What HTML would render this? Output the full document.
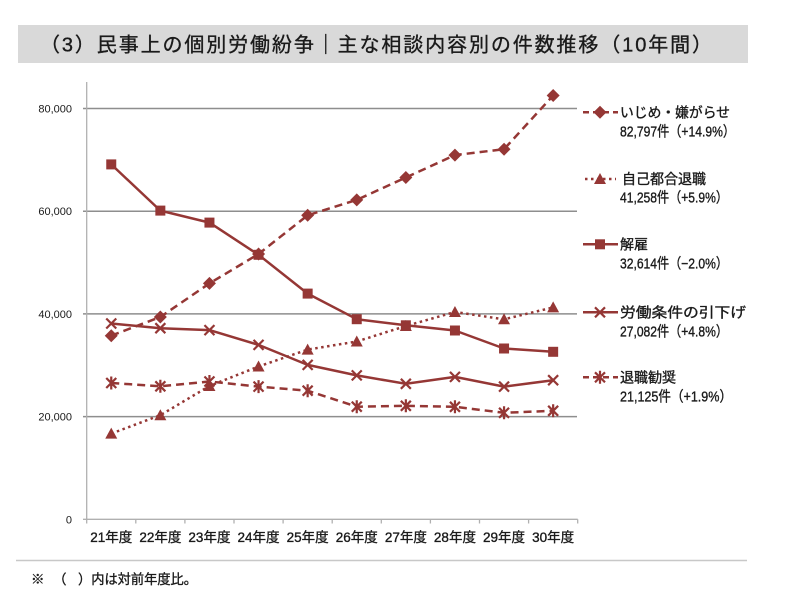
<!DOCTYPE html>
<html>
<head>
<meta charset="utf-8">
<style>
  html, body { margin:0; padding:0; background:#fff; }
  body { width:800px; height:607px; overflow:hidden; }
  svg { display:block; }
  text { font-family: "Liberation Sans", "Noto Sans CJK JP", sans-serif; fill:#1a1a1a; }
  .heavy { stroke:#1a1a1a; stroke-width:0.35px; }
</style>
</head>
<body>
<svg width="800" height="607" viewBox="0 0 800 607" xmlns="http://www.w3.org/2000/svg">
  <!-- Title bar -->
  <rect x="18" y="25" width="730" height="38" fill="#d9d9d9"/>
  <text class="heavy" x="40" y="51.5" font-size="20" textLength="672" lengthAdjust="spacing">（3）民事上の個別労働紛争｜主な相談内容別の件数推移（10年間）</text>

  <!-- Gridlines -->
  <g stroke="#8e8e8e" stroke-width="1.5">
    <line x1="83" y1="108.5" x2="577" y2="108.5"/>
    <line x1="83" y1="211.2" x2="577" y2="211.2"/>
    <line x1="83" y1="313.9" x2="577" y2="313.9"/>
    <line x1="83" y1="416.6" x2="577" y2="416.6"/>
  </g>
  <!-- Axes -->
  <g stroke="#b0b0b0" stroke-width="1.3">
    <line x1="86.7" y1="82" x2="86.7" y2="519.3"/>
    <line x1="83" y1="519.3" x2="577.7" y2="519.3"/>
    <line x1="86.7" y1="519.3" x2="86.7" y2="523.5"/>
    <line x1="135.8" y1="519.3" x2="135.8" y2="523.5"/>
    <line x1="184.9" y1="519.3" x2="184.9" y2="523.5"/>
    <line x1="234" y1="519.3" x2="234" y2="523.5"/>
    <line x1="283.1" y1="519.3" x2="283.1" y2="523.5"/>
    <line x1="332.2" y1="519.3" x2="332.2" y2="523.5"/>
    <line x1="381.3" y1="519.3" x2="381.3" y2="523.5"/>
    <line x1="430.4" y1="519.3" x2="430.4" y2="523.5"/>
    <line x1="479.5" y1="519.3" x2="479.5" y2="523.5"/>
    <line x1="528.6" y1="519.3" x2="528.6" y2="523.5"/>
    <line x1="577.7" y1="519.3" x2="577.7" y2="523.5"/>
  </g>

  <!-- Y labels -->
  <g font-size="11" text-anchor="end">
    <text x="72" y="112.5">80,000</text>
    <text x="72" y="215.2">60,000</text>
    <text x="72" y="317.9">40,000</text>
    <text x="72" y="420.6">20,000</text>
    <text x="72" y="523.3">0</text>
  </g>

  <!-- X labels -->
  <g font-size="13.5" text-anchor="middle" class="heavy">
    <text class="heavy" x="111.25" y="542">21年度</text>
    <text class="heavy" x="160.35" y="542">22年度</text>
    <text class="heavy" x="209.45" y="542">23年度</text>
    <text class="heavy" x="258.55" y="542">24年度</text>
    <text class="heavy" x="307.65" y="542">25年度</text>
    <text class="heavy" x="356.75" y="542">26年度</text>
    <text class="heavy" x="405.85" y="542">27年度</text>
    <text class="heavy" x="454.95" y="542">28年度</text>
    <text class="heavy" x="504.05" y="542">29年度</text>
    <text class="heavy" x="553.15" y="542">30年度</text>
  </g>

  <defs>
    <g id="dia"><polygon points="0,-6.5 6.5,0 0,6.5 -6.5,0" fill="#953735"/></g>
    <g id="sq"><rect x="-5" y="-5" width="10" height="10" fill="#953735"/></g>
    <g id="tri"><polygon points="0,-6 6,5 -6,5" fill="#953735"/></g>
    <g id="xx"><path d="M-5,-5 L5,5 M-5,5 L5,-5" stroke="#953735" stroke-width="2.2" fill="none"/></g>
    <g id="ast"><path d="M-5,-5 L5,5 M-5,5 L5,-5 M0,-6.5 L0,6.5" stroke="#953735" stroke-width="2.2" fill="none"/></g>
  </defs>

  <g fill="none" stroke="#953735" stroke-width="2.5" stroke-linejoin="round">
    <polyline stroke-dasharray="8,5" points="111.25,383.0 160.35,386.3 209.45,381.5 258.55,386.6 307.65,390.7 356.75,406.7 405.85,405.8 454.95,406.8 504.05,412.8 553.15,410.8"/>
    <polyline points="111.25,323.5 160.35,328.2 209.45,330.1 258.55,344.9 307.65,364.9 356.75,375.4 405.85,383.8 454.95,376.9 504.05,386.6 553.15,380.2"/>
    <polyline stroke-dasharray="2.5,3.5" points="111.25,433.6 160.35,415.2 209.45,386.0 258.55,366.5 307.65,349.6 356.75,341.5 405.85,326.0 454.95,312.0 504.05,319.3 553.15,307.4"/>
    <polyline points="111.25,164.4 160.35,210.6 209.45,222.6 258.55,254.8 307.65,293.6 356.75,319.2 405.85,325.3 454.95,330.5 504.05,348.5 553.15,351.8"/>
    <polyline stroke-dasharray="8,5" points="111.25,335.7 160.35,317.0 209.45,283.4 258.55,254.0 307.65,215.3 356.75,199.9 405.85,177.5 454.95,155.1 504.05,149.2 553.15,95.5"/>
  </g>

  <use href="#ast" x="111.25" y="383.0"/><use href="#ast" x="160.35" y="386.3"/><use href="#ast" x="209.45" y="381.5"/><use href="#ast" x="258.55" y="386.6"/><use href="#ast" x="307.65" y="390.7"/><use href="#ast" x="356.75" y="406.7"/><use href="#ast" x="405.85" y="405.8"/><use href="#ast" x="454.95" y="406.8"/><use href="#ast" x="504.05" y="412.8"/><use href="#ast" x="553.15" y="410.8"/>
  <use href="#xx" x="111.25" y="323.5"/><use href="#xx" x="160.35" y="328.2"/><use href="#xx" x="209.45" y="330.1"/><use href="#xx" x="258.55" y="344.9"/><use href="#xx" x="307.65" y="364.9"/><use href="#xx" x="356.75" y="375.4"/><use href="#xx" x="405.85" y="383.8"/><use href="#xx" x="454.95" y="376.9"/><use href="#xx" x="504.05" y="386.6"/><use href="#xx" x="553.15" y="380.2"/>
  <use href="#tri" x="111.25" y="433.6"/><use href="#tri" x="160.35" y="415.2"/><use href="#tri" x="209.45" y="386.0"/><use href="#tri" x="258.55" y="366.5"/><use href="#tri" x="307.65" y="349.6"/><use href="#tri" x="356.75" y="341.5"/><use href="#tri" x="405.85" y="326.0"/><use href="#tri" x="454.95" y="312.0"/><use href="#tri" x="504.05" y="319.3"/><use href="#tri" x="553.15" y="307.4"/>
  <use href="#sq" x="111.25" y="164.4"/><use href="#sq" x="160.35" y="210.6"/><use href="#sq" x="209.45" y="222.6"/><use href="#sq" x="258.55" y="254.8"/><use href="#sq" x="307.65" y="293.6"/><use href="#sq" x="356.75" y="319.2"/><use href="#sq" x="405.85" y="325.3"/><use href="#sq" x="454.95" y="330.5"/><use href="#sq" x="504.05" y="348.5"/><use href="#sq" x="553.15" y="351.8"/>
  <use href="#dia" x="111.25" y="335.7"/><use href="#dia" x="160.35" y="317.0"/><use href="#dia" x="209.45" y="283.4"/><use href="#dia" x="258.55" y="254.0"/><use href="#dia" x="307.65" y="215.3"/><use href="#dia" x="356.75" y="199.9"/><use href="#dia" x="405.85" y="177.5"/><use href="#dia" x="454.95" y="155.1"/><use href="#dia" x="504.05" y="149.2"/><use href="#dia" x="553.15" y="95.5"/>

  <!-- Legend -->
  <g fill="none" stroke="#953735" stroke-width="2.5">
    <line x1="583" y1="112.3" x2="618" y2="112.3" stroke-dasharray="6,4"/>
    <line x1="585" y1="179" x2="616" y2="179" stroke-dasharray="2.5,3.5"/>
    <line x1="583" y1="244.3" x2="618" y2="244.3"/>
    <line x1="583" y1="312.3" x2="618" y2="312.3"/>
    <line x1="583" y1="377.3" x2="618" y2="377.3" stroke-dasharray="6,4"/>
  </g>
  <use href="#dia" x="600" y="112.3"/>
  <use href="#tri" x="600" y="179"/>
  <use href="#sq" x="600" y="244.3"/>
  <use href="#xx" x="600" y="312.3"/>
  <use href="#ast" x="600" y="377.3"/>

  <g font-size="14">
    <text class="heavy" x="620" y="117.3" textLength="110" lengthAdjust="spacingAndGlyphs">いじめ・嫌がらせ</text>
    <text class="heavy" x="620" y="136.5" font-size="14.5" textLength="115" lengthAdjust="spacingAndGlyphs">82,797件（+14.9%）</text>
    <text class="heavy" x="622" y="184">自己都合退職</text>
    <text class="heavy" x="620" y="202.3" font-size="14.5" textLength="108" lengthAdjust="spacingAndGlyphs">41,258件（+5.9%）</text>
    <text class="heavy" x="620" y="249.3">解雇</text>
    <text class="heavy" x="620" y="268.3" font-size="14.5" textLength="108" lengthAdjust="spacingAndGlyphs">32,614件（−2.0%）</text>
    <text class="heavy" x="620" y="317.3" textLength="126" lengthAdjust="spacingAndGlyphs">労働条件の引下げ</text>
    <text class="heavy" x="620" y="336.7" font-size="14.5" textLength="108" lengthAdjust="spacingAndGlyphs">27,082件（+4.8%）</text>
    <text class="heavy" x="620" y="382.3">退職勧奨</text>
    <text class="heavy" x="620" y="401.7" font-size="14.5" textLength="112" lengthAdjust="spacingAndGlyphs">21,125件（+1.9%）</text>
  </g>

  <!-- Separator -->
  <line x1="16" y1="560.5" x2="747" y2="560.5" stroke="#c8c8c8" stroke-width="1.5"/>

  <!-- Footnote -->
  <g font-size="13.5">
    <text class="heavy" x="31" y="584">※</text>
    <text class="heavy" x="53" y="584">（</text>
    <text class="heavy" x="78" y="584" textLength="119" lengthAdjust="spacingAndGlyphs">）内は対前年度比。</text>
  </g>
</svg>
</body>
</html>
